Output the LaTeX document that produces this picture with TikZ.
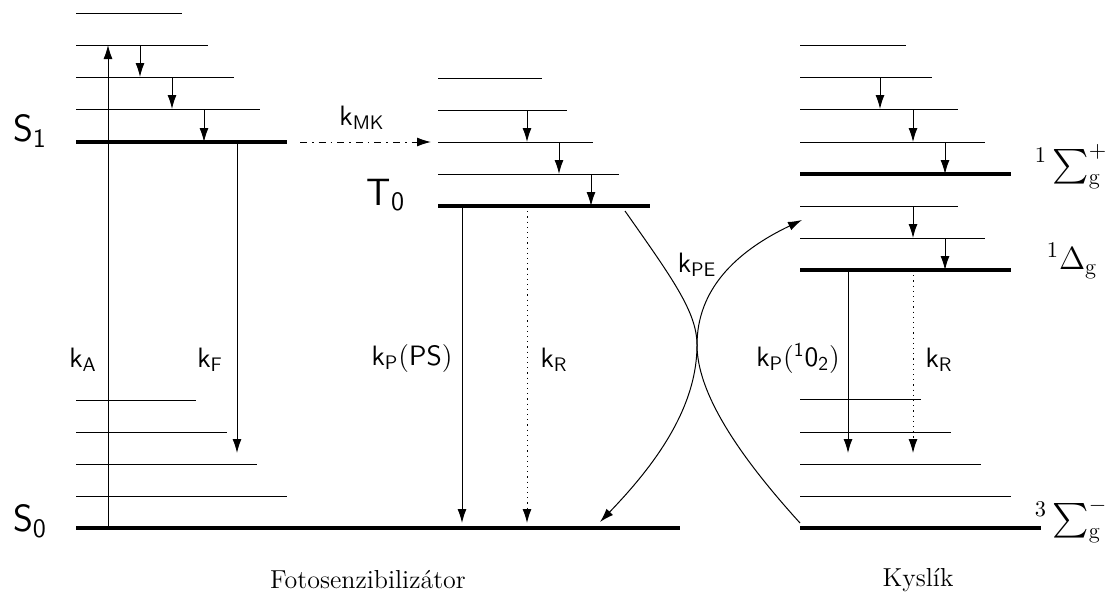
\documentclass[tikz,border=0pt]{standalone}
\usepackage{fix-cm}
\usepackage{amsmath}
\usepackage{fontspec}
\usetikzlibrary{arrows.meta}
\tikzset{
  lvl/.style={line width=0.5pt},
  glvl/.style={line width=1.7pt},
  arr/.style={line width=0.5pt,-{Latex[length=7pt,width=4.5pt]}},
  darr/.style={line width=0.5pt,{Latex[length=7pt,width=4.5pt]}-{Latex[length=7pt,width=4.5pt]}},
  dotarr/.style={arr,dash pattern=on 0.6pt off 2pt},
  dasharr/.style={arr,dash pattern=on 3.5pt off 2.5pt on 0.8pt off 2.5pt},
  stlab/.style={font=\fontsize{19}{22}\selectfont\sffamily,inner sep=0pt},
  klab/.style={font=\fontsize{14}{16}\selectfont\sffamily,inner sep=0pt},
  mlab/.style={font=\fontsize{16}{19}\selectfont,inner sep=0pt},
  captext/.style={font=\fontsize{13}{15}\selectfont,inner sep=0pt}
}
\begin{document}
\begin{tikzpicture}[x=0.5pt,y=-0.5pt]
\useasboundingbox (0,0) rectangle (1106,594);
% ---------- Photosensitizer singlet
\foreach \y/\x in {13/182,45/208,77/234,109/260} \draw[lvl] (76,\y) -- (\x,\y);
\draw[glvl] (76,142) -- (287,142);
\foreach \y/\x in {400/196,432/227,464/257,496/287} \draw[lvl] (76,\y) -- (\x,\y);
\draw[glvl] (76,528) -- (680,528);
\coordinate (kAs) at (108,528); \coordinate (kAe) at (108,45);
\draw[arr] (kAs) -- (kAe);
\draw[arr] (140,45) -- (140,77);
\draw[arr] (172,77) -- (172,109);
\draw[arr] (204,109) -- (204,142);
\coordinate (kFs) at (237,142); \coordinate (kFe) at (237,453);
\draw[arr] (kFs) -- (kFe);
\node[stlab] (S1) at (30,131) {$\mathsf{S}_{\mathsf{1}}$};
\node[stlab] (S0) at (30,521) {$\mathsf{S}_{\mathsf{0}}$};
\node[klab] (kA) at (83,360) {$\mathsf{k}_{\mathsf{A}}$};
\node[klab] (kF) at (210,360) {$\mathsf{k}_{\mathsf{F}}$};
% ---------- Photosensitizer triplet
\foreach \y/\x in {78/542,110/567,142/593,174/619} \draw[lvl] (438,\y) -- (\x,\y);
\draw[glvl] (438,206) -- (650,206);
\draw[arr] (527,110) -- (527,142);
\draw[arr] (559,142) -- (559,174);
\draw[arr] (591,174) -- (591,206);
\coordinate (mks) at (300,142); \coordinate (mke) at (431,142);
\draw[dasharr] (mks) -- (mke);
\node[klab] (kMK) at (362,118) {$\mathsf{k}_{\mathsf{MK}}$};
\node[stlab] (T0) at (386,195) {$\mathsf{T}_{\mathsf{0}}$};
\draw[arr] (462,206) -- (462,523);
\draw[dotarr] (527,206) -- (527,523);
\node[klab] (kPPS) at (412,358) {$\mathsf{k}_{\mathsf{P}}(\mathsf{PS})$};
\node[klab] (kR1) at (554,360) {$\mathsf{k}_{\mathsf{R}}$};
% ---------- energy transfer curves
\draw[lvl] (625,211) .. controls (672,278) and (697,312) .. (697,345) .. controls (697,400) and (752,470) .. (800,523);
\draw[darr] (600,522) .. controls (652,468) and (697,410) .. (697,345) .. controls (697,290) and (735,252) .. (802,220);
\node[klab] (kPE) at (697,265) {$\mathsf{k}_{\mathsf{PE}}$};
% ---------- Oxygen
\foreach \y/\x in {45/906,77/932,109/958,142/985,206/958,238/985} \draw[lvl] (800,\y) -- (\x,\y);
\draw[glvl] (800,174) -- (1011,174);
\draw[glvl] (800,270) -- (1011,270);
\draw[arr] (880,77) -- (880,109);
\draw[arr] (913,109) -- (913,142);
\draw[arr] (945,142) -- (945,174);
\draw[arr] (913,206) -- (913,238);
\draw[arr] (945,238) -- (945,270);
\foreach \y/\x in {399/921,432/951,464/981,496/1011} \draw[lvl] (800,\y) -- (\x,\y);
\draw[glvl] (800,528) -- (1041,528);
\draw[arr] (848,270) -- (848,453);
\draw[dotarr] (913,270) -- (913,453);
\node[klab] (kPO) at (798,358) {$\mathsf{k}_{\mathsf{P}}(^{\mathsf{1}}\mathsf{0}_{\mathsf{2}})$};
\node[klab] (kR2) at (939,360) {$\mathsf{k}_{\mathsf{R}}$};
\node[mlab] (Sp) at (1071,167) {$^1\sum_{\mathrm{g}}^+$};
\node[mlab] (Dg) at (1072,261) {$^1\Delta_{\mathrm{g}}$};
\node[mlab] (Sm) at (1071,521) {$^3\sum_{\mathrm{g}}^-$};
% ---------- captions
\node[captext] (cPS) at (368,580) {Fotosenzibilizátor};
\node[captext] (cO) at (918,580) {Kyslík};
\end{tikzpicture}
\end{document}
